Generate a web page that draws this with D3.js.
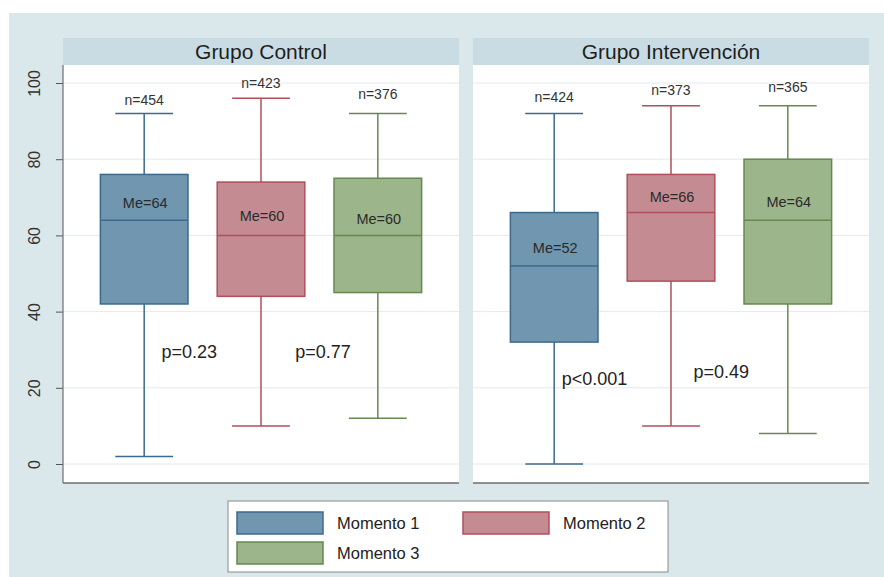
<!DOCTYPE html>
<html>
<head>
<meta charset="utf-8">
<script src="https://cdn.jsdelivr.net/npm/d3@7"></script>
<style>
  html, body { margin: 0; padding: 0; background: #ffffff; }
  svg { display: block; font-family: "Liberation Sans", Arial, Helvetica, sans-serif; }
</style>
</head>
<body>
<svg id="chart" width="884" height="577"></svg>
<script>
// ---------------- DATA ----------------
const groups = ["Grupo Control", "Grupo Intervención"];
const moments = ["Momento 1", "Momento 2", "Momento 3"];
const whiskerLow  = [[2, 10, 12], [0, 10, 8]];
const q1          = [[42, 44, 45], [32, 48, 42]];
const median      = [[64, 60, 60], [52, 66, 64]];
const q3          = [[76, 74, 75], [66, 76, 80]];
const whiskerHigh = [[92, 96, 92], [92, 94, 94]];
const nLabels  = [["n=454", "n=423", "n=376"], ["n=424", "n=373", "n=365"]];
const nLabelY  = [[95.4, 100, 97.1], [96.4, 98.2, 98.8]];
const meLabels = [["Me=64", "Me=60", "Me=60"], ["Me=52", "Me=66", "Me=64"]];
const meLabelY = [[68.6, 65.2, 64.4], [56.7, 70.2, 68.8]];
const pLabels  = [["p=0.23", "p=0.77"], ["p<0.001", "p=0.49"]];
const pLabelPos = [[0.385, 1.53], [0.345, 1.43]];   // position along category index
const pLabelY  = [[29.5, 29.5], [22.3, 24.2]];
const yTicks = [0, 20, 40, 60, 80, 100];

// ---------------- STYLE / LAYOUT ----------------
const fills   = ["#7096b0", "#c58b93", "#9cb58b"];
const strokes = ["#3c6a8e", "#b04f5b", "#66894f"];
const W = 884, H = 577;
const plotLeft = 63, plotRight = 869, gap = 14;
const headerTop = 38, plotTop = 65, plotBottom = 483;
const panelW = (plotRight - plotLeft - gap) / 2;

const svg = d3.select("#chart");

// backgrounds
svg.append("rect").attr("x", 0).attr("y", 0).attr("width", W).attr("height", H).attr("fill", "#ffffff");
svg.append("rect").attr("x", 9).attr("y", 13).attr("width", W - 9).attr("height", H - 13).attr("fill", "#dae8eb");

const y = d3.scaleLinear().domain([0, 100]).range([464, 83]);
const x = d3.scaleBand().domain(moments).range([0, panelW]).paddingInner(0.25).paddingOuter(0.32);
const color = d3.scaleOrdinal().domain(moments).range(fills);
const strokeC = d3.scaleOrdinal().domain(moments).range(strokes);
const xc = i => x(moments[i]) + x.bandwidth() / 2;
const xPos = t => { const i = Math.floor(t), f = t - i; return xc(i) + f * (xc(i + 1) - xc(i)); };

groups.forEach((gName, gi) => {
  const x0 = plotLeft + gi * (panelW + gap);
  const g = svg.append("g").attr("transform", `translate(${x0},0)`);

  // header strip
  g.append("rect").attr("x", 0).attr("y", headerTop).attr("width", panelW).attr("height", plotTop - headerTop)
    .attr("fill", "#c9dce4");
  g.append("text").attr("x", panelW / 2).attr("y", (headerTop + plotTop) / 2).attr("dy", "0.36em")
    .attr("text-anchor", "middle").attr("font-size", 21).attr("fill", "#1e1e1e").text(gName);

  // plot area
  g.append("rect").attr("x", 0).attr("y", plotTop).attr("width", panelW).attr("height", plotBottom - plotTop)
    .attr("fill", "#ffffff");

  // gridlines
  g.selectAll("line.grid").data(yTicks).join("line").attr("class", "grid")
    .attr("x1", 0).attr("x2", panelW).attr("y1", d => y(d)).attr("y2", d => y(d))
    .attr("stroke", "#e2eaee").attr("stroke-width", 1);

  // bottom axis line
  g.append("line").attr("x1", 0).attr("x2", panelW).attr("y1", plotBottom).attr("y2", plotBottom)
    .attr("stroke", "#6d6d6d").attr("stroke-width", 1.5);

  // boxes
  moments.forEach((m, mi) => {
    const cx = xc(mi), bw = x.bandwidth(), capW = bw * 0.66;
    const sc = strokeC(m);
    // whiskers
    g.append("line").attr("x1", cx).attr("x2", cx).attr("y1", y(whiskerLow[gi][mi])).attr("y2", y(q1[gi][mi]))
      .attr("stroke", sc).attr("stroke-width", 1.5);
    g.append("line").attr("x1", cx).attr("x2", cx).attr("y1", y(q3[gi][mi])).attr("y2", y(whiskerHigh[gi][mi]))
      .attr("stroke", sc).attr("stroke-width", 1.5);
    g.append("line").attr("x1", cx - capW / 2).attr("x2", cx + capW / 2)
      .attr("y1", y(whiskerLow[gi][mi])).attr("y2", y(whiskerLow[gi][mi]))
      .attr("stroke", sc).attr("stroke-width", 1.5);
    g.append("line").attr("x1", cx - capW / 2).attr("x2", cx + capW / 2)
      .attr("y1", y(whiskerHigh[gi][mi])).attr("y2", y(whiskerHigh[gi][mi]))
      .attr("stroke", sc).attr("stroke-width", 1.5);
    // box
    g.append("rect").attr("x", x(m)).attr("y", y(q3[gi][mi])).attr("width", bw)
      .attr("height", y(q1[gi][mi]) - y(q3[gi][mi]))
      .attr("fill", color(m)).attr("stroke", sc).attr("stroke-width", 1.5);
    g.append("line").attr("x1", x(m)).attr("x2", x(m) + bw)
      .attr("y1", y(median[gi][mi])).attr("y2", y(median[gi][mi]))
      .attr("stroke", sc).attr("stroke-width", 1.5);
    // labels
    g.append("text").attr("x", cx).attr("y", y(nLabelY[gi][mi])).attr("dy", "0.35em")
      .attr("text-anchor", "middle").attr("font-size", 14).attr("fill", "#333").text(nLabels[gi][mi]);
    g.append("text").attr("x", cx + 1).attr("y", y(meLabelY[gi][mi])).attr("dy", "0.35em")
      .attr("text-anchor", "middle").attr("font-size", 14.5).attr("fill", "#2a2a2a").text(meLabels[gi][mi]);
  });

  pLabels[gi].forEach((p, pi) => {
    g.append("text").attr("x", xPos(pLabelPos[gi][pi])).attr("y", y(pLabelY[gi][pi])).attr("dy", "0.35em")
      .attr("text-anchor", "middle").attr("font-size", 18).attr("fill", "#222").text(p);
  });
});

// y axis
const yAxis = svg.append("g").attr("transform", `translate(${plotLeft},0)`)
  .call(d3.axisLeft(y).tickValues(yTicks).tickSize(7).tickFormat(d3.format("d")));
yAxis.select(".domain").remove();
yAxis.selectAll(".tick line").attr("stroke", "#555");
yAxis.selectAll(".tick text")
  .attr("transform", "rotate(-90)").attr("x", 0).attr("y", -23).attr("dy", 0)
  .attr("text-anchor", "middle").attr("font-size", 16).attr("fill", "#333")
  .attr("font-family", "'Liberation Sans', Arial, sans-serif");
svg.append("line").attr("x1", plotLeft).attr("x2", plotLeft).attr("y1", plotTop).attr("y2", plotBottom)
  .attr("stroke", "#6d6d6d").attr("stroke-width", 1.2);

// legend
const lg = svg.append("g");
lg.append("rect").attr("x", 228).attr("y", 501).attr("width", 440).attr("height", 71)
  .attr("fill", "#ffffff").attr("stroke", "#8a8a8a").attr("stroke-width", 1);
const legPos = [[237, 512], [463, 512], [237, 542]];
moments.forEach((m, i) => {
  const [lx, ly] = legPos[i];
  lg.append("rect").attr("x", lx).attr("y", ly).attr("width", 86).attr("height", 22)
    .attr("fill", color(m)).attr("stroke", strokeC(m)).attr("stroke-width", 1.5);
  lg.append("text").attr("x", lx + 100).attr("y", ly + 11).attr("dy", "0.35em")
    .attr("font-size", 16.5).attr("fill", "#222").text(m);
});
</script>
</body>
</html>
